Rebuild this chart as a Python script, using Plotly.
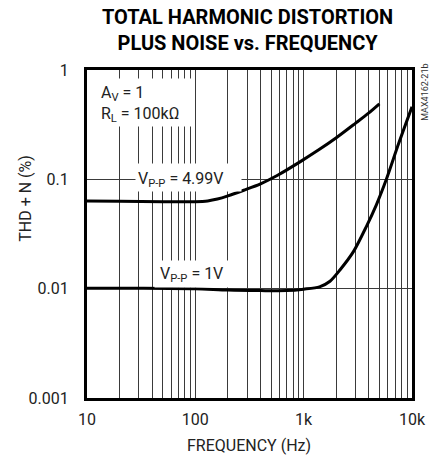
import plotly.graph_objects as go

# ---- data ----
freq_499 = [10, 20, 50, 100, 130, 160, 200, 280, 400, 575, 940, 1400, 2000, 3000, 4000, 5000]
thd_499 = [0.0635, 0.063, 0.0625, 0.0625, 0.0635, 0.066, 0.0705, 0.0795, 0.091, 0.109, 0.146, 0.188, 0.24, 0.325, 0.405, 0.49]

freq_1v = [10, 30, 100, 200, 400, 700, 1000, 1400, 1750, 2170, 2880, 3800, 4700, 5800, 7500, 10000]
thd_1v = [0.0101, 0.0101, 0.0100, 0.0097, 0.0096, 0.0096, 0.0099, 0.0104, 0.0117, 0.0149, 0.0218, 0.0372, 0.0588, 0.100, 0.21, 0.46]

x_tickvals = [10, 20, 30, 40, 50, 60, 70, 80, 90,
              100, 200, 300, 400, 500, 600, 700, 800, 900,
              1000, 2000, 3000, 4000, 5000, 6000, 7000, 8000, 9000, 10000]
x_ticktext = ["10", "", "", "", "", "", "", "", "",
              "100", "", "", "", "", "", "", "", "",
              "1k", "", "", "", "", "", "", "", "", "10k"]
y_tickvals = [0.001, 0.01, 0.1, 1]
y_ticktext = ["0.001", "0.01", "0.1", "1"]

FONT = "Liberation Sans Narrow, Roboto, sans-serif"

fig = go.Figure()
fig.add_trace(go.Scatter(x=freq_499, y=thd_499, mode="lines",
                         line=dict(color="black", width=3, shape="spline", smoothing=0.8),
                         showlegend=False, hoverinfo="skip"))
fig.add_trace(go.Scatter(x=freq_1v, y=thd_1v, mode="lines",
                         line=dict(color="black", width=3, shape="spline", smoothing=0.8),
                         showlegend=False, hoverinfo="skip"))

axis_common = dict(showline=True, mirror=True, linewidth=3, linecolor="black",
                   showgrid=True, gridcolor="#3a3a3a", gridwidth=1, zeroline=False,
                   ticks="", tickfont=dict(family=FONT, size=16, color="#222"))

fig.update_xaxes(type="log", range=[1, 4], tickmode="array",
                 tickvals=x_tickvals, ticktext=x_ticktext, ticklabelstandoff=5,
                 **axis_common)
fig.update_yaxes(type="log", range=[-3, 0], tickmode="array",
                 tickvals=y_tickvals, ticktext=y_ticktext, ticklabelstandoff=12,
                 **axis_common)


def px_x(px):
    return (px - 87) / 329


def px_y(py):
    return (398 - py) / 328


# white label backgrounds covering the grid (left, right, top, bottom in pixels)
boxes = [(89, 193, 78, 125), (136, 241, 163, 190), (155, 232, 260, 286)]
for l, r, t, b in boxes:
    fig.add_annotation(xref="paper", yref="paper", x=px_x(l), y=px_y(t), xanchor="left", yanchor="top",
                       text=" ", showarrow=False, width=r - l, height=b - t, borderpad=0,
                       bgcolor="white", font=dict(size=4))

ann_font = dict(family=FONT, size=16, color="#222")
fig.add_annotation(xref="paper", yref="paper", x=px_x(99), y=px_y(104), xanchor="left", yanchor="middle",
                   text="A<sub>V</sub> = 1<br>R<sub>L</sub> = 100kΩ", showarrow=False, align="left",
                   font=ann_font)
fig.add_annotation(xref="paper", yref="paper", x=px_x(137), y=px_y(179), xanchor="left", yanchor="middle",
                   text="V<sub>P-P</sub> = 4.99V", showarrow=False, font=ann_font)
fig.add_annotation(xref="paper", yref="paper", x=px_x(159), y=px_y(274), xanchor="left", yanchor="middle",
                   text="V<sub>P-P</sub> = 1V", showarrow=False, font=ann_font)
# title
fig.add_annotation(xref="paper", yref="paper", x=px_x(249), y=px_y(30), xanchor="center", yanchor="middle",
                   text="<b>TOTAL HARMONIC DISTORTION<br>PLUS NOISE vs. FREQUENCY</b>", showarrow=False,
                   font=dict(family=FONT, size=20, color="black"))
# axis titles
fig.add_annotation(xref="paper", yref="paper", x=px_x(251), y=px_y(446), xanchor="center", yanchor="middle",
                   text="FREQUENCY (Hz)", showarrow=False, font=ann_font)
fig.add_annotation(xref="paper", yref="paper", x=px_x(24), y=px_y(198), xanchor="center", yanchor="middle",
                   text="THD + N (%)", textangle=-90, showarrow=False, font=ann_font)
fig.add_annotation(xref="paper", yref="paper", x=px_x(429), y=px_y(92), xanchor="center", yanchor="middle",
                   text="MAX4162-21b", textangle=-90, showarrow=False,
                   font=dict(family=FONT, size=9, color="#333"))

fig.update_layout(width=438, height=457, margin=dict(l=87, r=22, t=70, b=59),
                  plot_bgcolor="white", paper_bgcolor="white", showlegend=False)

fig.write_html("out.html", config={"displayModeBar": False},
               post_script="document.body.style.margin='0';document.body.style.overflow='hidden';")
